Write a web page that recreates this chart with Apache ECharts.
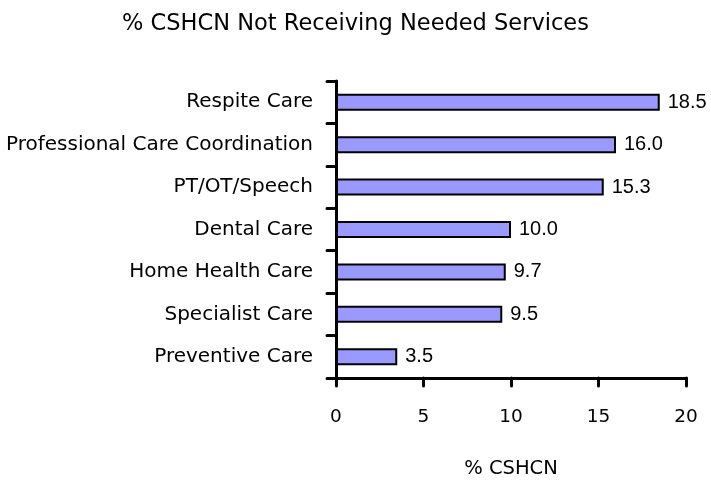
<!DOCTYPE html>
<html><head><meta charset="utf-8">
<script src="https://cdn.jsdelivr.net/npm/echarts@6/dist/echarts.min.js"></script>
<style>html,body{margin:0;padding:0;background:#fff}#c{width:711px;height:484px}</style>
</head><body><div id="c"></div>
<script>
const categories = ["Preventive Care","Specialist Care","Home Health Care","Dental Care","PT/OT/Speech","Professional Care Coordination","Respite Care"];
const values = [3.5, 9.5, 9.7, 10.0, 15.3, 16.0, 18.5];
const xTicks = [0, 5, 10, 15, 20];
const titleText = "% CSHCN Not Receiving Needed Services";
const xName = "% CSHCN";
const font = "DejaVu Sans";
const chart = echarts.init(document.getElementById('c'), null, {renderer:'canvas'});
chart.setOption({
  animation:false,
  backgroundColor:'#fff',
  title:{text:titleText,left:'center',top:8,textStyle:{fontFamily:font,fontSize:22.5,fontWeight:'normal',color:'#000'}},
  grid:{left:336,right:25,top:81,bottom:105,containLabel:false},
  xAxis:{type:'value',min:xTicks[0],max:xTicks[xTicks.length-1],interval:5,
    name:xName,nameLocation:'middle',nameGap:81,
    nameTextStyle:{fontFamily:font,fontSize:19.5,color:'#000'},
    axisLine:{show:true,lineStyle:{color:'#000',width:3,cap:'round'}},
    axisTick:{show:true,length:8,lineStyle:{color:'#000',width:3,cap:'round'}},
    axisLabel:{fontFamily:font,fontSize:18.5,color:'#000',margin:30},
    splitLine:{show:false}},
  yAxis:{type:'category',data:categories,
    axisLine:{show:true,lineStyle:{color:'#000',width:3,cap:'round'}},
    axisTick:{show:true,length:9,lineStyle:{color:'#000',width:3,cap:'round'}},
    axisLabel:{fontFamily:font,fontSize:20,color:'#000',margin:23}},
  series:[{type:'bar',data:values,barWidth:17,
    itemStyle:{color:'#9999FF',borderColor:'#000',borderWidth:2},
    label:{show:true,position:'right',distance:8,formatter:p=>p.value.toFixed(1),fontFamily:'Liberation Sans',fontSize:20,color:'#000'}}]
});
</script></body></html>
